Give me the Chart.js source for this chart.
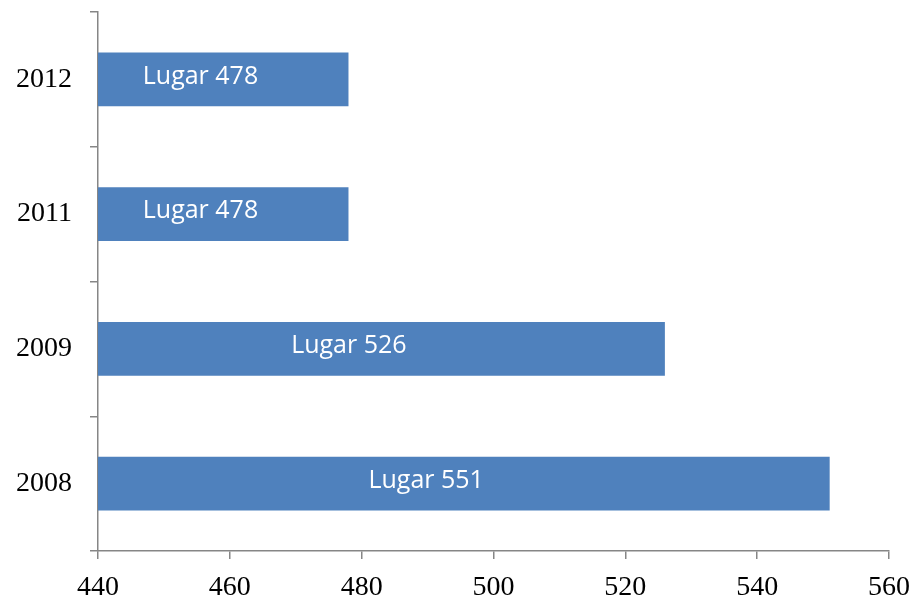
<!DOCTYPE html>
<html>
<head>
<meta charset="utf-8">
<script src="https://cdn.jsdelivr.net/npm/chart.js@4"></script>
<style>
  html, body { margin: 0; padding: 0; background: #fff; }
  #wrap { width: 916px; height: 596px; }
</style>
</head>
<body>
<div id="wrap"><canvas id="chart" width="916" height="596"></canvas></div>
<script>
// Данные графика
const years = ["2012", "2011", "2009", "2008"];
const places = [478, 478, 526, 551];
const xTicks = [440, 460, 480, 500, 520, 540, 560];

const axisColor = "#868686";
const barColor = "#4F81BD";

// Подписи внутри столбцов (как в Excel — чуть левее центра)
const barLabels = {
  id: "barLabels",
  afterDraw(chart) {
    const c = chart.ctx;
    const xScale = chart.scales.x;
    const yScale = chart.scales.y;
    const left = xScale.getPixelForValue(xTicks[0]);
    c.save();
    c.font = "25px 'Open Sans'";
    c.fillStyle = "#ffffff";
    c.textAlign = "center";
    c.textBaseline = "middle";
    places.forEach((v, i) => {
      const w = xScale.getPixelForValue(v) - left;
      const cx = left + 0.469 * w - 15;
      const cy = yScale.getPixelForValue(i) - 3;
      c.fillText("Lugar " + v, cx, cy);
    });
    c.restore();
  },
};

const ctx = document.getElementById("chart").getContext("2d");
const chart = new Chart(ctx, {
  type: "bar",
  data: {
    labels: years,
    datasets: [
      {
        data: places,
        backgroundColor: barColor,
        borderWidth: 0,
        categoryPercentage: 1,
        barPercentage: 0.4,
      },
    ],
  },
  options: {
    indexAxis: "y",
    responsive: false,
    animation: false,
    layout: { padding: { top: 12, right: 27, left: 0, bottom: 0 } },
    plugins: {
      legend: { display: false },
      tooltip: { enabled: false },
    },
    scales: {
      x: {
        min: xTicks[0],
        max: xTicks[xTicks.length - 1],
        afterBuildTicks: (axis) => {
          axis.ticks = xTicks.map((v) => ({ value: v }));
        },
        afterFit: (axis) => {
          axis.height = 45;
          axis.paddingLeft = 0;
          axis.paddingRight = 0;
        },
        border: { color: axisColor, width: 1.5 },
        grid: {
          drawOnChartArea: false,
          color: axisColor,
          tickLength: 8,
          lineWidth: 1.5,
        },
        ticks: {
          color: "#000",
          padding: 12,
          maxRotation: 0,
          font: { family: "'Liberation Serif'", size: 28 },
        },
      },
      y: {
        offset: true,
        afterFit: (axis) => {
          axis.width = 98;
          axis.paddingTop = 0;
          axis.paddingBottom = 0;
        },
        border: { color: axisColor, width: 1.5 },
        grid: {
          offset: true,
          drawOnChartArea: false,
          color: axisColor,
          tickLength: 8,
          lineWidth: 1.5,
        },
        ticks: {
          color: "#000",
          padding: 18,
          font: { family: "'Liberation Serif'", size: 28 },
        },
      },
    },
  },
  plugins: [barLabels],
});
</script>
</body>
</html>
